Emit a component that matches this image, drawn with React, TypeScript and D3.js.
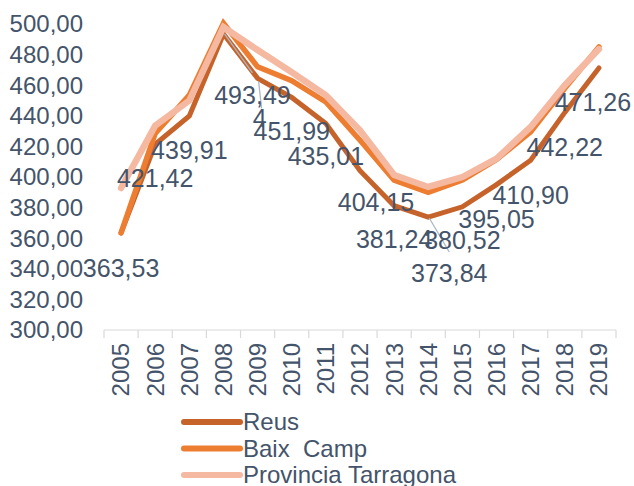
import { useEffect, useRef } from "react";
import * as d3 from "d3";

const W = 634, H = 486;
const FONT = "'Liberation Sans', Arial, sans-serif";
const TEXT = "#44546a";

const YEARS = ["2005", "2006", "2007", "2008", "2009", "2010", "2011", "2012", "2013", "2014", "2015", "2016", "2017", "2018", "2019"];
const REUS = [363.53, 421.42, 439.91, 493.49, 464.5, 451.99, 435.01, 404.15, 381.24, 373.84, 380.52, 395.05, 410.90, 442.22, 471.26];
const BAIX_CAMP = [363.5, 428.5, 453.5, 500.5, 472, 463, 449, 424, 398, 390, 398, 411.5, 429.5, 458, 485];
const PROVINCIA = [392.8, 433.5, 450, 498, 483, 468.5, 453.5, 430.5, 401.3, 393.5, 400, 412, 432.7, 460, 483.6];
// text of the data labels on Reus (2009 label is clipped to "4" in the source)
const REUS_LABELS = ["363,53", "421,42", "439,91", "493,49", "4", "451,99", "435,01", "404,15", "381,24", "373,84", "380,52", "395,05", "410,90", "442,22", "471,26"];
const Y_TICKS = [300, 320, 340, 360, 380, 400, 420, 440, 460, 480, 500];

const SERIES = [
  { name: "Reus", values: REUS, color: "#c6632b", width: 5 },
  { name: "Baix  Camp", values: BAIX_CAMP, color: "#ed7d31", width: 5.5 },
  { name: "Provincia Tarragona", values: PROVINCIA, color: "#f5b9a2", width: 6.5 },
];

// label nudges (dx, dy from the point) and leader lines
const LABEL_OFF: [number, number][] = [
  [0, 35], [0, 34], [0, 34], [29, 61], [2, 40], [0, 34], [0, 33], [16, 32],
  [0, 34], [21, 56], [0, 33], [0, 35], [0, 35], [0, 35], [-6, 34],
];
const LEADERS: { i: number; from: [number, number]; to: [number, number] }[] = [
  { i: 3, from: [1, 0], to: [29, 39] },
  { i: 4, from: [1, 3], to: [4, 30] },
  { i: 9, from: [1, 1], to: [21, 35] },
];

export default function App() {
  const ref = useRef<SVGSVGElement>(null);

  useEffect(() => {
    const svg = d3.select(ref.current);
    svg.selectAll("*").remove();

    const x = d3.scaleBand().domain(YEARS).range([104, 616]);
    const y = d3.scaleLinear().domain([300, 500]).range([330, 24]);
    const cx = (d: string) => (x(d) ?? 0) + x.bandwidth() / 2;

    // y tick labels
    svg.append("g").selectAll("text").data(Y_TICKS).join("text")
      .attr("x", 83).attr("y", d => y(d)).attr("dy", "0.35em")
      .attr("text-anchor", "end").attr("font-size", 24).attr("font-family", FONT)
      .attr("fill", TEXT)
      .text(d => d3.format(".2f")(d).replace(".", ","));

    // x axis
    const ax = svg.append("g");
    ax.append("line").attr("x1", 104).attr("x2", 616).attr("y1", 330).attr("y2", 330)
      .attr("stroke", "#d9d9d9").attr("stroke-width", 1.2);
    ax.selectAll("line.tick").data([...YEARS.map(d => x(d) ?? 0), 616]).join("line")
      .attr("class", "tick")
      .attr("x1", d => d).attr("x2", d => d).attr("y1", 330).attr("y2", 338)
      .attr("stroke", "#d9d9d9").attr("stroke-width", 1.2);
    ax.selectAll("text").data(YEARS).join("text")
      .attr("transform", d => `translate(${cx(d)},343) rotate(-90)`)
      .attr("dy", "0.35em").attr("text-anchor", "end")
      .attr("font-size", 24).attr("font-family", FONT).attr("fill", TEXT)
      .text(d => d);

    // lines
    const line = d3.line<number>().x((_, i) => cx(YEARS[i])).y(d => y(d));
    svg.append("g").selectAll("path").data(SERIES).join("path")
      .attr("d", s => line(s.values))
      .attr("fill", "none").attr("stroke", s => s.color).attr("stroke-width", s => s.width)
      .attr("stroke-linecap", "round").attr("stroke-linejoin", "miter");

    // leader lines
    svg.append("g").selectAll("line").data(LEADERS).join("line")
      .attr("x1", l => cx(YEARS[l.i]) + l.from[0]).attr("y1", l => y(REUS[l.i]) + l.from[1])
      .attr("x2", l => cx(YEARS[l.i]) + l.to[0]).attr("y2", l => y(REUS[l.i]) + l.to[1])
      .attr("stroke", "#a9b7c8").attr("stroke-width", 1.3);

    // data labels
    svg.append("g").selectAll("text").data(REUS_LABELS).join("text")
      .attr("x", (_, i) => cx(YEARS[i]) + LABEL_OFF[i][0])
      .attr("y", (_, i) => y(REUS[i]) + LABEL_OFF[i][1])
      .attr("dy", "0.35em").attr("text-anchor", "middle")
      .attr("font-size", 25).attr("font-family", FONT).attr("fill", TEXT)
      .text(d => d);

    // legend
    const lg = svg.append("g").selectAll("g").data(SERIES).join("g")
      .attr("transform", (_, i) => `translate(0,${422 + i * 26.5})`);
    lg.append("line").attr("x1", 184).attr("x2", 240).attr("y1", 0).attr("y2", 0)
      .attr("stroke", s => s.color).attr("stroke-width", 6).attr("stroke-linecap", "round");
    lg.append("text").attr("x", 243).attr("dy", "0.35em")
      .attr("font-size", 24).attr("font-family", FONT).attr("fill", TEXT)
      .style("white-space", "pre")
      .text(s => s.name);
  }, []);

  return (
    <div style={{ position: "absolute", left: 0, top: 0, background: "#fff" }}>
      <svg ref={ref} width={W} height={H} style={{ display: "block" }} />
    </div>
  );
}
